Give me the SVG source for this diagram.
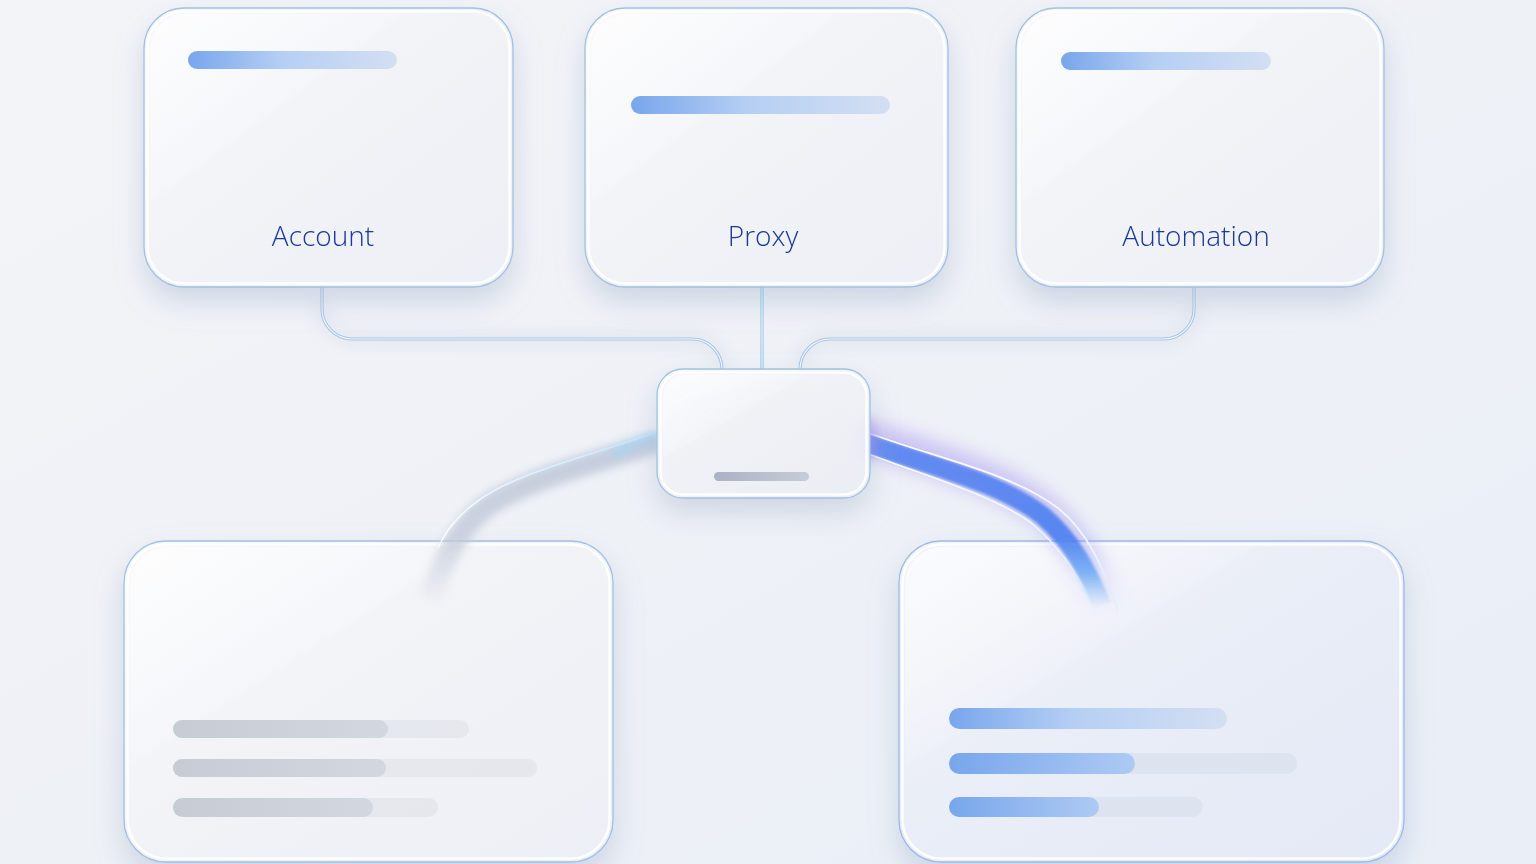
<svg xmlns="http://www.w3.org/2000/svg" width="1536" height="864" viewBox="0 0 1536 864">
<defs>
  <linearGradient id="bg" x1="0" y1="0" x2="1" y2="1">
    <stop offset="0" stop-color="#f3f4f8"/>
    <stop offset="0.5" stop-color="#eef1f6"/>
    <stop offset="1" stop-color="#e9eef7"/>
  </linearGradient>
  <linearGradient id="cardFill" x1="0" y1="0" x2="1" y2="1">
    <stop offset="0" stop-color="#f8f9fb"/>
    <stop offset="0.45" stop-color="#f1f3f7"/>
    <stop offset="1" stop-color="#eceff5"/>
  </linearGradient>
  <linearGradient id="cardFillBlue" x1="0" y1="0" x2="1" y2="1">
    <stop offset="0" stop-color="#f2f4f9"/>
    <stop offset="0.5" stop-color="#e9edf7"/>
    <stop offset="1" stop-color="#e4e9f6"/>
  </linearGradient>
  <linearGradient id="gloss" x1="0" y1="0" x2="1" y2="1">
    <stop offset="0" stop-color="#ffffff" stop-opacity="0.7"/>
    <stop offset="0.35" stop-color="#ffffff" stop-opacity="0.15"/>
    <stop offset="0.36" stop-color="#ffffff" stop-opacity="0"/>
    <stop offset="1" stop-color="#ffffff" stop-opacity="0"/>
  </linearGradient>
  <linearGradient id="barBlue" x1="0" y1="0" x2="1" y2="0">
    <stop offset="0" stop-color="#78a6ec"/>
    <stop offset="0.45" stop-color="#b5cff4"/>
    <stop offset="1" stop-color="#d3dff2"/>
  </linearGradient>
  <linearGradient id="barBlueFill" x1="0" y1="0" x2="1" y2="0">
    <stop offset="0" stop-color="#78a6ec"/>
    <stop offset="1" stop-color="#aecaf3"/>
  </linearGradient>
  <linearGradient id="barGray" x1="0" y1="0" x2="1" y2="0">
    <stop offset="0" stop-color="#c6cbd4"/>
    <stop offset="1" stop-color="#d2d7e0"/>
  </linearGradient>
  <linearGradient id="smallBar" x1="0" y1="0" x2="1" y2="0">
    <stop offset="0" stop-color="#aab2c4"/>
    <stop offset="1" stop-color="#c6ccd8"/>
  </linearGradient>
  <linearGradient id="vline" x1="0" y1="287" x2="0" y2="369" gradientUnits="userSpaceOnUse">
    <stop offset="0" stop-color="#7fd6f0"/>
    <stop offset="0.5" stop-color="#a9c6e6"/>
    <stop offset="1" stop-color="#8fc6ee"/>
  </linearGradient>
  <linearGradient id="fadeR" x1="0" y1="430" x2="0" y2="610" gradientUnits="userSpaceOnUse">
    <stop offset="0" stop-color="#5a86f0"/>
    <stop offset="0.6" stop-color="#4c7ff0"/>
    <stop offset="0.8" stop-color="#5aa2f2" stop-opacity="0.8"/>
    <stop offset="1" stop-color="#7cc0f5" stop-opacity="0"/>
  </linearGradient>
  <linearGradient id="fadeRglow" x1="0" y1="420" x2="0" y2="610" gradientUnits="userSpaceOnUse">
    <stop offset="0" stop-color="#a68cf2"/>
    <stop offset="0.7" stop-color="#9c8ff2" stop-opacity="0.8"/>
    <stop offset="1" stop-color="#b8a8f5" stop-opacity="0"/>
  </linearGradient>
  <linearGradient id="fadeRline" x1="0" y1="430" x2="0" y2="620" gradientUnits="userSpaceOnUse">
    <stop offset="0" stop-color="#ffffff"/>
    <stop offset="0.7" stop-color="#e6f4ff"/>
    <stop offset="1" stop-color="#bfe6ff" stop-opacity="0"/>
  </linearGradient>
  <linearGradient id="fadeL" x1="0" y1="430" x2="0" y2="610" gradientUnits="userSpaceOnUse">
    <stop offset="0" stop-color="#b9c3d8"/>
    <stop offset="0.6" stop-color="#c3cad8"/>
    <stop offset="1" stop-color="#c9d0dc" stop-opacity="0"/>
  </linearGradient>
  <linearGradient id="fadeLline" x1="0" y1="430" x2="0" y2="600" gradientUnits="userSpaceOnUse">
    <stop offset="0" stop-color="#bfeaff"/>
    <stop offset="0.6" stop-color="#ffffff"/>
    <stop offset="1" stop-color="#ffffff" stop-opacity="0"/>
  </linearGradient>
  <filter id="shadow" x="-20%" y="-20%" width="140%" height="150%">
    <feDropShadow dx="0" dy="14" stdDeviation="14" flood-color="#98a9c6" flood-opacity="0.38"/>
  </filter>
  <filter id="blur8" x="-30%" y="-30%" width="160%" height="160%"><feGaussianBlur stdDeviation="8"/></filter>
  <filter id="blur4" x="-30%" y="-30%" width="160%" height="160%"><feGaussianBlur stdDeviation="4"/></filter>
  <filter id="blur2" x="-30%" y="-30%" width="160%" height="160%"><feGaussianBlur stdDeviation="1.8"/></filter>
  <filter id="blur1" x="-30%" y="-30%" width="160%" height="160%"><feGaussianBlur stdDeviation="0.7"/></filter>
</defs>
<style>
  .card { fill: url(#cardFill); stroke: #a3c0e4; stroke-width: 1.3; }
  .cardB { fill: url(#cardFillBlue); stroke: #9cbbe4; stroke-width: 1.3; }
  .inner { fill: none; stroke: #ffffff; stroke-width: 2.5; stroke-opacity: 0.9; }
  .gloss { fill: url(#gloss); }
  .label { font-family: "Open Sans", "Noto Sans", "Liberation Sans", sans-serif; font-size: 28px; font-weight: 300; fill: #1a3898; text-anchor: middle; }
  .wireOut { fill: none; stroke: #a9c5e6; stroke-width: 3.2; }
  .wireIn { fill: none; stroke: #f6f9fd; stroke-width: 1.1; }
  .track { fill: #d9e1ee; opacity: 0.75; }
  .trackG { fill: #e2e5eb; opacity: 0.8; }
</style>
<rect width="1536" height="864" fill="url(#bg)"/>

<g id="connectors">
  <path d="M322 300 V309 A30 30 0 0 0 352 339 H692 A30 30 0 0 1 722 369" fill="none" stroke="#c9d3e3" stroke-width="10" opacity="0.45" filter="url(#blur8)"/>
  <path d="M1194 300 V309 A30 30 0 0 1 1164 339 H830 A30 30 0 0 0 800 369" fill="none" stroke="#c9d3e3" stroke-width="10" opacity="0.45" filter="url(#blur8)"/>
  <path id="wireLeft" class="wireOut" d="M322 287 V309 A30 30 0 0 0 352 339 H692 A30 30 0 0 1 722 369"/>
  <path class="wireIn" d="M322 287 V309 A30 30 0 0 0 352 339 H692 A30 30 0 0 1 722 369"/>
  <path id="wireRight" class="wireOut" d="M1194 287 V309 A30 30 0 0 1 1164 339 H830 A30 30 0 0 0 800 369"/>
  <path class="wireIn" d="M1194 287 V309 A30 30 0 0 1 1164 339 H830 A30 30 0 0 0 800 369"/>
  <line id="wireCenter" x1="762" y1="287" x2="762" y2="369" stroke="url(#vline)" stroke-width="3.2"/>
  <line x1="762" y1="287" x2="762" y2="369" stroke="#f4fbff" stroke-width="1"/>
  <path d="M762 289 V300" stroke="#8fe0ff" stroke-width="6" opacity="0.6" filter="url(#blur4)"/>
</g>

<g id="node-account" filter="url(#shadow)">
  <rect class="card" x="144" y="8" width="369" height="279" rx="40"/>
  <rect class="inner" x="147.5" y="11.5" width="362" height="272" rx="37"/>
  <rect class="gloss" x="150" y="14" width="357" height="267" rx="35"/>
  <rect x="188" y="51" width="209" height="18" rx="9" fill="url(#barBlue)"/>
  <text class="label" x="323" y="246">Account</text>
</g>

<g id="node-proxy" filter="url(#shadow)">
  <rect class="card" x="585" y="8" width="363" height="279" rx="40"/>
  <rect class="inner" x="588.5" y="11.5" width="356" height="272" rx="37"/>
  <rect class="gloss" x="591" y="14" width="351" height="267" rx="35"/>
  <rect x="631" y="96" width="259" height="18" rx="9" fill="url(#barBlue)"/>
  <text class="label" x="763" y="246">Proxy</text>
</g>

<g id="node-automation" filter="url(#shadow)">
  <rect class="card" x="1016" y="8" width="368" height="279" rx="40"/>
  <rect class="inner" x="1019.5" y="11.5" width="361" height="272" rx="37"/>
  <rect class="gloss" x="1022" y="14" width="356" height="267" rx="35"/>
  <rect x="1061" y="52" width="210" height="18" rx="9" fill="url(#barBlue)"/>
  <text class="label" x="1196" y="246">Automation</text>
</g>

<g id="node-left" filter="url(#shadow)">
  <rect class="card" x="124" y="541" width="489" height="321" rx="42"/>
  <rect class="inner" x="127.5" y="544.5" width="482" height="314" rx="39"/>
  <rect class="gloss" x="130" y="547" width="477" height="309" rx="37"/>
  <rect class="trackG" x="173" y="720" width="296" height="18" rx="9"/>
  <rect x="173" y="720" width="215" height="18" rx="9" fill="url(#barGray)"/>
  <rect class="trackG" x="173" y="759" width="364" height="18" rx="9"/>
  <rect x="173" y="759" width="213" height="18" rx="9" fill="url(#barGray)"/>
  <rect class="trackG" x="173" y="798" width="265" height="19" rx="9.5"/>
  <rect x="173" y="798" width="200" height="19" rx="9.5" fill="url(#barGray)"/>
</g>

<g id="node-right" filter="url(#shadow)">
  <rect class="cardB" x="899" y="541" width="505" height="321" rx="42"/>
  <rect class="inner" x="902.5" y="544.5" width="498" height="314" rx="39"/>
  <rect class="gloss" x="905" y="547" width="493" height="309" rx="37"/>
  <rect x="949" y="708" width="278" height="21" rx="10.5" fill="url(#barBlue)"/>
  <rect class="track" x="949" y="753" width="348" height="21" rx="10.5"/>
  <rect x="949" y="753" width="186" height="21" rx="10.5" fill="url(#barBlueFill)"/>
  <rect class="track" x="949" y="797" width="254" height="20" rx="10"/>
  <rect x="949" y="797" width="150" height="20" rx="10" fill="url(#barBlueFill)"/>
</g>

<g id="beams">
  <path d="M660 441 C600 462 520 480 482 510 C458 530 442 562 430 600" fill="none" stroke="url(#fadeL)" stroke-width="22" opacity="0.8" filter="url(#blur4)"/>
  <path d="M656 432 C595 455 515 472 475 503 C455 518 445 532 438 548" fill="none" stroke="url(#fadeLline)" stroke-width="1.6" filter="url(#blur1)"/>
  <path d="M662 436 C640 442 625 448 612 454" fill="none" stroke="#8fd8ff" stroke-width="6" opacity="0.6" filter="url(#blur4)"/>
  <path d="M864 436 C930 460 1000 476 1045 512 C1075 538 1092 570 1105 605" fill="none" stroke="url(#fadeRglow)" stroke-width="36" opacity="0.45" filter="url(#blur8)"/>
  <path d="M866 443 C930 466 1000 482 1043 516 C1072 541 1088 572 1102 605" fill="none" stroke="url(#fadeR)" stroke-width="19" opacity="0.9" filter="url(#blur2)"/>
  <path d="M866 432 C935 458 1010 472 1058 508 C1088 532 1105 570 1118 612" fill="none" stroke="url(#fadeRline)" stroke-width="1.8" filter="url(#blur1)"/>
  <path d="M866 453 C925 476 990 494 1030 522 C1058 545 1075 570 1090 600" fill="none" stroke="url(#fadeRline)" stroke-width="1.6" filter="url(#blur1)"/>
  <ellipse cx="866" cy="440" rx="10" ry="22" fill="#a98cf2" opacity="0.55" filter="url(#blur4)"/>
</g>

<g id="node-hub" filter="url(#shadow)">
  <rect class="card" x="657" y="369" width="213" height="129" rx="26" fill-opacity="0.92"/>
  <rect class="inner" x="660.5" y="372.5" width="206" height="122" rx="23"/>
  <rect class="gloss" x="663" y="375" width="201" height="117" rx="21"/>
  <rect x="714" y="472" width="95" height="9" rx="4.5" fill="url(#smallBar)"/>
</g>
</svg>
